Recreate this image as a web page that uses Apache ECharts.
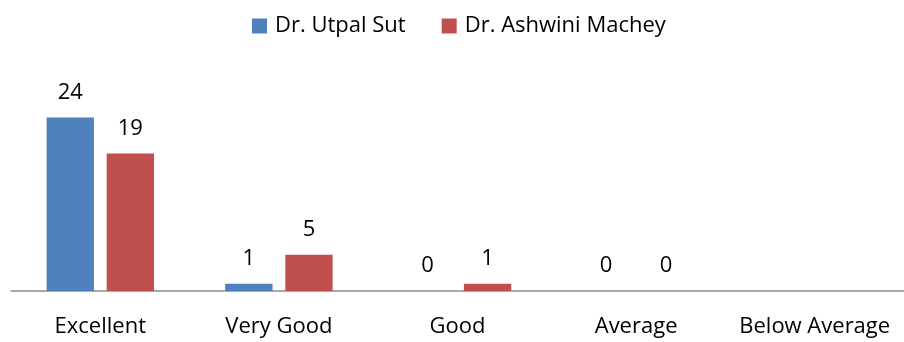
<!DOCTYPE html>
<html>
<head>
<meta charset="utf-8">
<script src="https://cdn.jsdelivr.net/npm/echarts@6/dist/echarts.min.js"></script>
<style>
  html, body { margin: 0; padding: 0; background: #fff; }
  #chart { width: 904px; height: 342px; }
</style>
</head>
<body>
<div id="chart"></div>
<script>
// Ratings received by each faculty member
const categories = ['Excellent', 'Very Good', 'Good', 'Average', 'Below Average'];
const seriesNames = ['Dr. Utpal Sut', 'Dr. Ashwini Machey'];
const utpalSut = [24, 1, 0, 0, null];
const ashwiniMachey = [19, 5, 1, 0, null];

const FONT = '"Open Sans", "Noto Sans", sans-serif';
const chart = echarts.init(document.getElementById('chart'));

const labelStyle = {
  show: true,
  position: 'top',
  distance: 14,
  color: '#000',
  fontFamily: FONT,
  fontSize: 22
};

chart.setOption({
  animation: false,
  textStyle: { fontFamily: FONT },
  legend: {
    top: 10,
    left: 247,
    itemWidth: 15,
    itemHeight: 15,
    itemGap: 36,
    icon: 'rect',
    textStyle: { color: '#000', fontSize: 22, fontFamily: FONT, padding: [0, 0, 0, 3] },
    data: seriesNames
  },
  grid: { left: 11, right: 0, top: 74, bottom: 51, containLabel: false },
  xAxis: {
    type: 'category',
    data: categories,
    axisLine: { lineStyle: { color: '#8c8c8c', width: 1.5 } },
    axisTick: { show: false },
    axisLabel: {
      color: '#000',
      fontSize: 22,
      fontFamily: FONT,
      margin: 25,
      interval: 0,
      hideOverlap: false
    }
  },
  yAxis: {
    type: 'value',
    min: 0,
    max: 30,
    show: false,
    splitLine: { show: false }
  },
  series: [
    {
      name: seriesNames[0],
      type: 'bar',
      data: utpalSut,
      barWidth: '26.5%',
      barGap: '27%',
      itemStyle: { color: '#4F81BD' },
      label: labelStyle
    },
    {
      name: seriesNames[1],
      type: 'bar',
      data: ashwiniMachey,
      barWidth: '26.5%',
      itemStyle: { color: '#C0504D' },
      label: labelStyle
    }
  ]
});
</script>
</body>
</html>
